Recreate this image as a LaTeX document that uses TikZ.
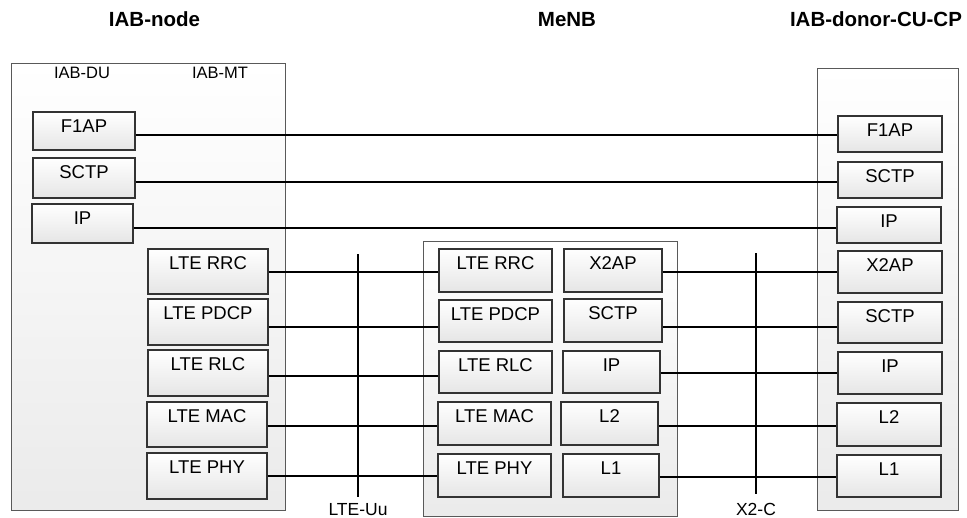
\documentclass[tikz,border=0pt]{standalone}
\usepackage{fontspec}
\setmainfont{Liberation Sans}
\newcommand\protobox[6]{%
  \pgfmathsetmacro\bw{#4-#2}%
  \pgfmathsetmacro\bh{#5-#3}%
  \pgfmathsetmacro\bd{#5-#3-27}%
  \node[pbox, minimum width=\bw pt, minimum height=\bh pt, text depth=\bd pt] (#1) at ({(#2+#4)/2},{(#3+#5)/2}) {#6};}
\newcommand\outerbox[5]{%
  \pgfmathsetmacro\bw{#4-#2}%
  \pgfmathsetmacro\bh{#5-#3}%
  \node[outer, minimum width=\bw pt, minimum height=\bh pt] (#1) at ({(#2+#4)/2},{(#3+#5)/2}) {};}
\begin{document}
\begin{tikzpicture}[x=1pt,y=-1pt,
  every node/.style={font=\fontsize{18.5}{20}\selectfont},
  pbox/.style={draw=black!80, line width=1.3pt, top color=white, bottom color=black!10, inner sep=0pt, text height=13pt},
  outer/.style={draw=black!65, line width=1pt, top color=white, bottom color=black!8, inner sep=0pt},
  title/.style={font=\fontsize{20.5}{22}\selectfont\bfseries, anchor=base, inner sep=0pt},
  lbl/.style={font=\fontsize{17.5}{19}\selectfont, anchor=base, inner sep=0pt},
  sublbl/.style={font=\fontsize{16.5}{18}\selectfont, anchor=base, inner sep=0pt},
  thickline/.style={line width=2.9pt},
  thinline/.style={line width=1.4pt}]
\useasboundingbox (0,0) rectangle (967,517);

% titles
\node[title] (tiab) at (154.5,26.5) {IAB-node};
\node[title] (tmenb) at (567,26.5) {MeNB};
\node[title] (tdonor) at (876,26.5) {IAB-donor-CU-CP};

% outer boxes
\outerbox{iab}{11}{63}{285}{510}
\outerbox{menb}{423}{241}{677}{516}
\outerbox{donor}{817}{68}{958}{510}

\node[sublbl] (du) at (82,78) {IAB-DU};
\node[sublbl] (mt) at (220,78) {IAB-MT};

% IAB-node boxes
\protobox{f1apA}{33}{112}{135}{150}{F1AP}
\protobox{sctpA}{33}{158}{135}{198}{SCTP}
\protobox{ipA}{32}{204}{133}{243}{IP}
\protobox{rrcA}{148}{249}{268}{294}{LTE RRC}
\protobox{pdcpA}{148}{299}{268}{345}{LTE PDCP}
\protobox{rlcA}{148}{350}{268}{396}{LTE RLC}
\protobox{macA}{147}{402}{267}{447}{LTE MAC}
\protobox{phyA}{147}{453}{267}{499}{LTE PHY}

% MeNB boxes
\protobox{rrcM}{439}{249}{552}{292}{LTE RRC}
\protobox{pdcpM}{439}{300}{552}{342}{LTE PDCP}
\protobox{rlcM}{439}{351}{552}{393}{LTE RLC}
\protobox{macM}{438}{402}{551}{445}{LTE MAC}
\protobox{phyM}{438}{454}{551}{497}{LTE PHY}
\protobox{x2apM}{564}{249}{662}{292}{X2AP}
\protobox{sctpM}{564}{299}{662}{342}{SCTP}
\protobox{ipM}{563}{351}{660}{393}{IP}
\protobox{ltwoM}{561}{402}{658}{445}{L2}
\protobox{loneM}{563}{454}{659}{497}{L1}

% donor boxes
\protobox{f1apD}{838}{116}{942}{152}{F1AP}
\protobox{sctpD}{838}{162}{942}{198}{SCTP}
\protobox{ipD}{837}{207}{941}{243}{IP}
\protobox{x2apD}{838}{251}{942}{293}{X2AP}
\protobox{sctpDb}{838}{302}{942}{343}{SCTP}
\protobox{ipDb}{838}{352}{942}{394}{IP}
\protobox{ltwoD}{837}{403}{941}{446}{L2}
\protobox{loneD}{837}{455}{941}{497}{L1}

% IAB-node <-> donor
\draw[thickline] (f1apA.east |- 0,135) -- (f1apD.west |- 0,135);
\draw[thickline] (sctpA.east |- 0,182) -- (sctpD.west |- 0,182);
\draw[thickline] (ipA.east |- 0,228) -- (ipD.west |- 0,228);

% LTE-Uu
\draw[thickline] (rrcA.east |- 0,272) -- (rrcM.west |- 0,272);
\draw[thickline] (pdcpA.east |- 0,327) -- (pdcpM.west |- 0,327);
\draw[thickline] (rlcA.east |- 0,376) -- (rlcM.west |- 0,376);
\draw[thickline] (macA.east |- 0,426) -- (macM.west |- 0,426);
\draw[thickline] (phyA.east |- 0,476) -- (phyM.west |- 0,476);

% X2-C
\draw[thickline] (x2apM.east |- 0,272) -- (x2apD.west |- 0,272);
\draw[thickline] (sctpM.east |- 0,327) -- (sctpDb.west |- 0,327);
\draw[thinline] (ipM.east |- 0,373) -- (ipDb.west |- 0,373);
\draw[thinline] (ltwoM.east |- 0,426) -- (ltwoD.west |- 0,426);
\draw[thickline] (loneM.east |- 0,477) -- (loneD.west |- 0,477);

% interface lines and labels
\node[lbl] (uu) at (358,515) {LTE-Uu};
\node[lbl] (xc) at (756,515) {X2-C};
\coordinate (uutop) at (358,254);
\coordinate (uubot) at (358,497);
\coordinate (xctop) at (756,253);
\coordinate (xcbot) at (756,494);
\draw[thickline] (uutop) -- (uubot);
\draw[thickline] (xctop) -- (xcbot);
\end{tikzpicture}
\end{document}
